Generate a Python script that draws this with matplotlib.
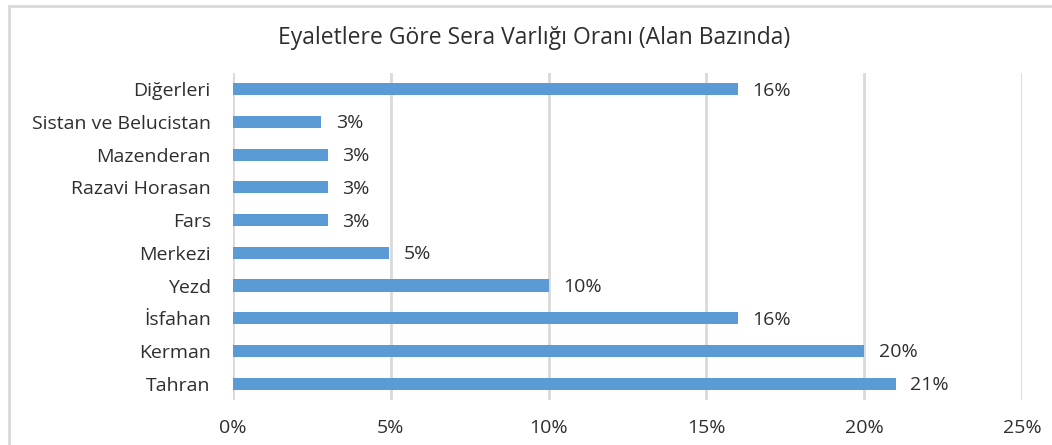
import matplotlib.pyplot as plt
from matplotlib.patches import Rectangle
from matplotlib.ticker import FuncFormatter

# bottom to top
provinces = ["Tahran", "Kerman", "İsfahan", "Yezd", "Merkezi", "Fars",
             "Razavi Horasan", "Mazenderan", "Sistan ve Belucistan", "Diğerleri"]
shares = [21.0, 20.0, 16.0, 10.0, 4.95, 3.0, 3.0, 3.0, 2.8, 16.0]
value_labels = ["21%", "20%", "16%", "10%", "5%", "3%", "3%", "3%", "3%", "16%"]

plt.rcParams['font.family'] = ['Open Sans', 'DejaVu Sans']
text_color = "#2e2e2e"

fig = plt.figure(figsize=(10.52, 4.45), dpi=100)
ax = fig.add_axes([0.2215, 0.1011, 0.75, 0.735])

# light frame around the chart area
fig.patches.append(Rectangle((9 / 1052, -0.1), 1.2, 1 - 6 / 445 + 0.1,
                             transform=fig.transFigure, fill=False,
                             edgecolor="#d9d9d9", linewidth=2))

ypos = range(len(provinces))
ax.barh(ypos, shares, height=0.37, color="#5b9bd5", zorder=3)
for y, v, lab in zip(ypos, shares, value_labels):
    ax.annotate(lab, (v, y), xytext=(10.5, -1), textcoords="offset points",
                va="center", ha="left", fontsize=14, color=text_color)

ax.set_xlim(0, 25)
ax.set_ylim(-0.5, len(provinces) - 0.5)
ax.set_xticks([0, 5, 10, 15, 20, 25])
ax.xaxis.set_major_formatter(FuncFormatter(lambda x, p: f"{x:.0f}%"))
ax.set_yticks(list(ypos))
ax.set_yticklabels(provinces)
ax.tick_params(axis="both", length=0, labelsize=14, labelcolor=text_color)
ax.tick_params(axis="y", pad=16)
ax.tick_params(axis="x", pad=14)
ax.grid(axis="x", color="#d9d9d9", linewidth=2, zorder=0)
for s in ax.spines.values():
    s.set_visible(False)

fig.text(0.508, 0.915, "Eyaletlere Göre Sera Varlığı Oranı (Alan Bazında)",
         ha="center", va="center", fontsize=16.5, color=text_color)

fig.savefig("out.png", dpi=100)
